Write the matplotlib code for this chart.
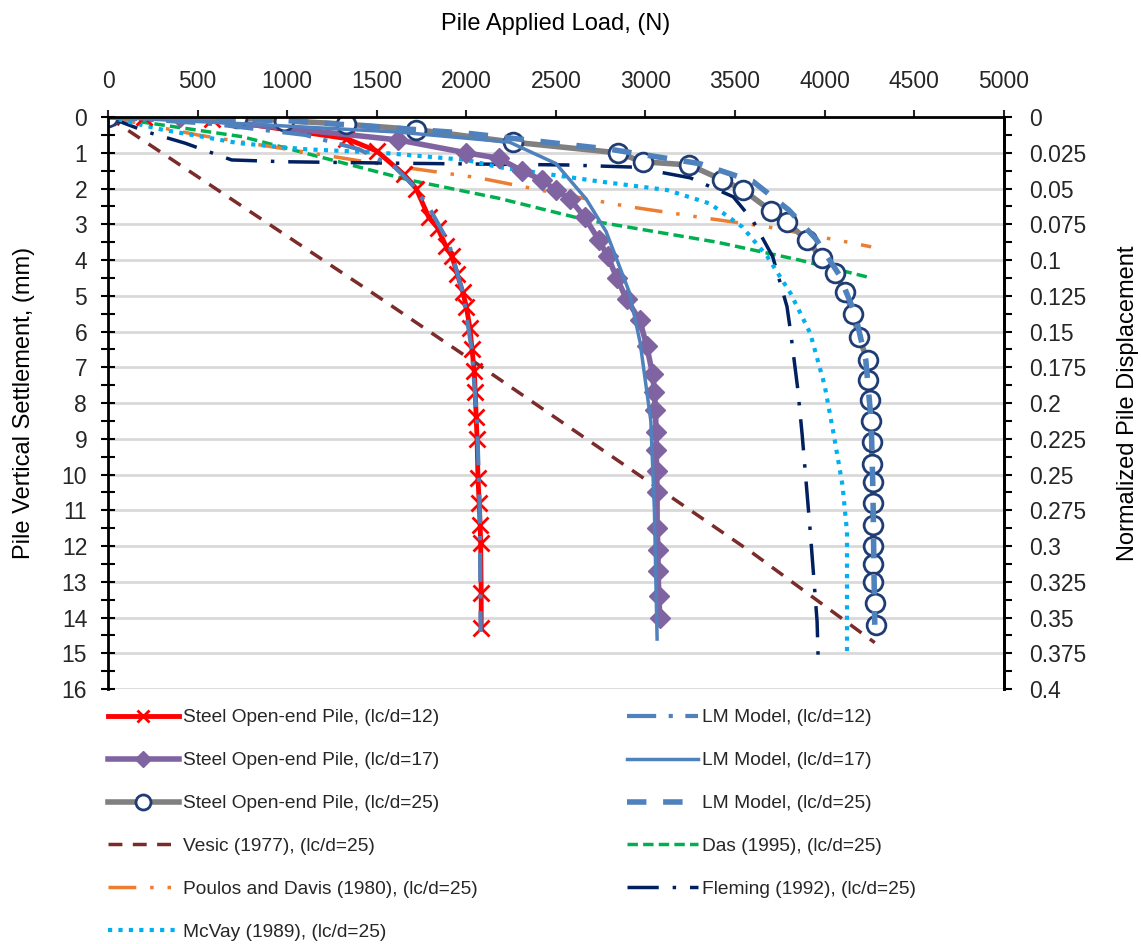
import matplotlib
matplotlib.use("Agg")
import matplotlib.pyplot as plt
from matplotlib.ticker import MultipleLocator, FuncFormatter

plt.rcParams["font.family"] = ["Liberation Sans", "DejaVu Sans"]

# --- measured / model load-settlement curves (load in N, settlement in mm) ---
steel12_load = [0, 200, 580, 1330, 1500, 1650, 1720, 1790, 1840, 1885, 1920, 1950, 1980,
                2000, 2020, 2032, 2044, 2050, 2055, 2060, 2065, 2072, 2077, 2080, 2083, 2083]
steel12_set = [0, 0, 0.05, 0.6, 0.95, 1.6, 2.0, 2.8, 3.1, 3.6, 3.9, 4.4, 4.9,
               5.3, 5.9, 6.5, 7.1, 7.7, 8.4, 9.0, 10.1, 10.8, 11.4, 11.9, 13.3, 14.3]

steel17_load = [0, 400, 1620, 2000, 2180, 2310, 2420, 2500, 2580, 2660, 2740, 2790, 2840,
                2895, 2968, 3007, 3040, 3050, 3055, 3060, 3060, 3062, 3065, 3065, 3070,
                3070, 3075, 3080]
steel17_set = [0, 0, 0.64, 1.0, 1.15, 1.5, 1.76, 2.04, 2.3, 2.8, 3.44, 3.9, 4.5,
               5.1, 5.68, 6.4, 7.2, 7.7, 8.2, 8.8, 9.3, 9.9, 10.5, 11.5, 12.1,
               12.7, 13.4, 14.0]

steel25_load = [0, 720, 980, 1330, 1720, 2260, 2845, 2985, 3245, 3430, 3545, 3700, 3790,
                3900, 3985, 4060, 4115, 4160, 4190, 4240, 4245, 4255, 4260, 4262, 4265,
                4268, 4268, 4270, 4270, 4270, 4272, 4280, 4285]
steel25_set = [0, 0.02, 0.1, 0.2, 0.35, 0.7, 1.0, 1.25, 1.34, 1.76, 2.04, 2.62, 2.94,
               3.44, 3.95, 4.37, 4.9, 5.5, 6.15, 6.8, 7.36, 7.9, 8.5, 9.1, 9.7,
               10.2, 10.8, 11.4, 12.0, 12.5, 13.0, 13.6, 14.2]

lm12_load = [0, 600, 1100, 1400, 1600, 1700, 1800, 1900, 1980, 2030, 2060, 2075, 2080]
lm12_set = [0, 0.2, 0.5, 0.9, 1.4, 1.9, 2.6, 3.5, 4.9, 6.5, 8.5, 11.0, 14.4]

lm17_load = [0, 800, 1620, 2240, 2500, 2670, 2780, 2910, 2970, 3030, 3050, 3065]
lm17_set = [0, 0.2, 0.42, 0.7, 1.3, 2.3, 3.2, 4.9, 6.3, 8.5, 11.0, 14.6]

lm25_load = [0, 1000, 2000, 2800, 3300, 3600, 3800, 3950, 4080, 4170, 4230, 4260, 4270, 4275, 4280]
lm25_set = [0, 0.1, 0.45, 0.9, 1.3, 1.8, 2.6, 3.4, 4.4, 5.5, 6.8, 8.5, 10.5, 12.5, 14.2]

# --- empirical predictions (lc/d=25) ---
vesic_load = [0, 1500, 2030, 3600, 4280]
vesic_set = [0, 5.0, 6.8, 12.2, 14.7]

das_load = [0, 750, 1440, 1680, 2180, 2670, 3400, 3860, 4260]
das_set = [0, 0.55, 1.45, 1.76, 2.27, 2.88, 3.5, 4.0, 4.5]

poulos_load = [0, 500, 1000, 1500, 2070, 2500, 2900, 3300, 3680, 4130, 4260]
poulos_set = [0, 0.5, 0.9, 1.3, 1.7, 2.13, 2.5, 2.8, 3.07, 3.5, 3.63]

fleming_load = [0, 220, 430, 690, 990, 1600, 2560, 2930, 3250, 3490, 3600, 3710, 3790,
                3810, 3850, 3875, 3920, 3958, 3965]
fleming_set = [0, 0.42, 0.73, 1.2, 1.25, 1.29, 1.34, 1.4, 1.7, 2.23, 2.9, 3.9, 5.3,
               6.0, 7.6, 8.9, 11.6, 14.1, 15.3]

mcvay_load = [0, 300, 730, 1100, 1530, 2000, 2180, 2740, 3120, 3360, 3540, 3680, 3810,
              3920, 4000, 4050, 4100, 4125, 4125, 4125]
mcvay_set = [0, 0.35, 0.73, 0.9, 1.0, 1.2, 1.4, 1.8, 2.04, 2.42, 3.07, 3.9, 4.93,
             6.05, 7.5, 8.85, 10.3, 11.6, 13.3, 15.0]

PILE_DIAMETER = 40.0  # mm, for the normalized axis

fig = plt.figure(figsize=(11.41, 9.44), dpi=100)
ax = fig.add_axes([0.0947, 0.270, 0.785, 0.606])

# empirical curves first so the measured data sit on top
h_vesic, = ax.plot(vesic_load, vesic_set, color="#7B2C2A", lw=2.5, ls=(0, (4, 3)),
                   label="Vesic (1977), (lc/d=25)")
h_das, = ax.plot(das_load, das_set, color="#00B050", lw=2.5, ls=(0, (3, 1.5)),
                 label="Das (1995), (lc/d=25)")
h_poulos, = ax.plot(poulos_load, poulos_set, color="#ED7D31", lw=2.5,
                    ls=(0, (8, 4, 1, 4, 1, 4)), label="Poulos and Davis (1980), (lc/d=25)")
h_flem, = ax.plot(fleming_load, fleming_set, color="#002060", lw=2.5,
                  ls=(0, (9, 4, 1, 4)), label="Fleming (1992), (lc/d=25)")
h_mcvay, = ax.plot(mcvay_load, mcvay_set, color="#00B0F0", lw=3, ls=(0, (1, 1.5)),
                   label="McVay (1989), (lc/d=25)")

h_s12, = ax.plot(steel12_load, steel12_set, color="#FF0000", lw=3.5, marker="x",
                 ms=11, mew=2, label="Steel Open-end Pile, (lc/d=12)")
h_s17, = ax.plot(steel17_load, steel17_set, color="#8064A2", lw=4, marker="D",
                 ms=10.5, label="Steel Open-end Pile, (lc/d=17)")
h_s25, = ax.plot(steel25_load, steel25_set, color="#808080", lw=4, marker="o",
                 ms=13.5, mfc="white", mec="#1F3C74", mew=2,
                 label="Steel Open-end Pile, (lc/d=25)")

h_lm12, = ax.plot(lm12_load, lm12_set, color="#4F81BD", lw=3, ls=(0, (7, 3, 1, 3)),
                  label="LM Model, (lc/d=12)")
h_lm17, = ax.plot(lm17_load, lm17_set, color="#4F81BD", lw=2.5, ls="-",
                  label="LM Model, (lc/d=17)")
h_lm25, = ax.plot(lm25_load, lm25_set, color="#4F81BD", lw=4, ls=(0, (3.5, 3)),
                  label="LM Model, (lc/d=25)")

ax.set_xlim(0, 5000)
ax.set_ylim(16, 0)
ax.xaxis.tick_top()
ax.xaxis.set_label_position("top")
ax.xaxis.set_major_locator(MultipleLocator(500))
ax.yaxis.set_major_locator(MultipleLocator(1))
ax.yaxis.set_minor_locator(MultipleLocator(0.5))
ax.set_xlabel("Pile Applied Load, (N)", fontsize=17, labelpad=29)
ax.set_ylabel("Pile Vertical Settlement, (mm)", fontsize=17, labelpad=19)
ax.tick_params(axis="x", direction="out", length=5, width=1.5, labelsize=16.5,
               pad=12, colors="#262626")
ax.tick_params(axis="y", which="both", direction="inout", length=10, width=1.5,
               labelsize=16.5, pad=10, labelcolor="#262626")
ax.grid(axis="y", color="#D9D9D9", lw=2)
ax.set_axisbelow(True)
ax.spines["bottom"].set_visible(False)
for s in ("top", "left", "right"):
    ax.spines[s].set_linewidth(2)

ax2 = ax.twinx()
ax2.set_ylim(16 / PILE_DIAMETER, 0)
ax2.yaxis.set_major_locator(MultipleLocator(0.025))
ax2.yaxis.set_minor_locator(MultipleLocator(0.0125))
ax2.yaxis.set_major_formatter(FuncFormatter(lambda v, p: f"{v:.3f}".rstrip("0").rstrip(".")))
ax2.tick_params(axis="y", which="both", direction="out", length=6, width=1.5,
                labelsize=16.5, pad=12, labelcolor="#262626")
ax2.set_ylabel("Normalized Pile Displacement", fontsize=17, labelpad=22, rotation=90)
ax2.spines["bottom"].set_visible(False)
ax2.spines["right"].set_linewidth(2)
ax2.spines["top"].set_visible(False)
ax2.spines["left"].set_visible(False)

# two legend columns placed separately under the plot
left_handles = [h_s12, h_s17, h_s25, h_vesic, h_poulos, h_mcvay]
right_handles = [h_lm12, h_lm17, h_lm25, h_das, h_flem]
legend_kw = dict(loc="upper left", frameon=False, fontsize=13.8, handlelength=3.7,
                 handletextpad=0.2, labelspacing=1.33, borderpad=0, borderaxespad=0,
                 markerscale=0.8, labelcolor="#262626")
leg1 = fig.legend(handles=left_handles, labels=[h.get_label() for h in left_handles],
                  bbox_to_anchor=(108 / 1141, 1 - 709 / 944), **legend_kw)
leg2 = fig.legend(handles=right_handles, labels=[h.get_label() for h in right_handles],
                  bbox_to_anchor=(627 / 1141, 1 - 709 / 944), **legend_kw)

fig.savefig("out.png", dpi=100)
